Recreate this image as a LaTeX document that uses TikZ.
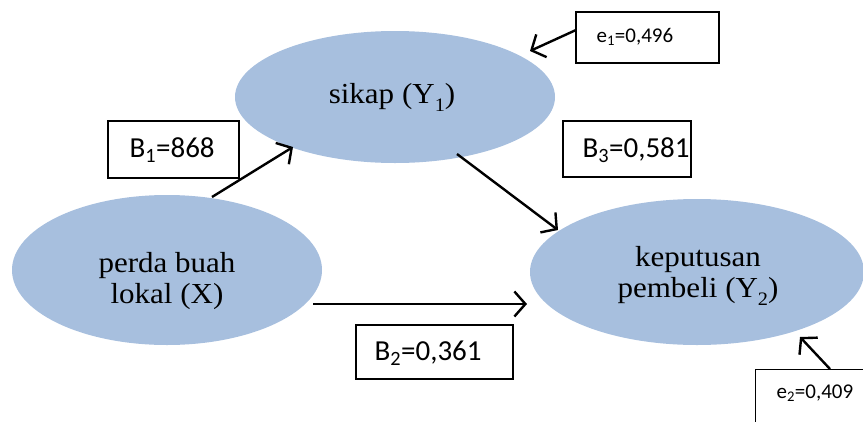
\documentclass[tikz,border=0pt]{standalone}
\usepackage{fontspec}
\setmainfont{Liberation Serif}
\newfontfamily\carlitofont{Carlito}
\usetikzlibrary{shapes.geometric,arrows.meta}
\definecolor{ellblue}{HTML}{A7BFDE}
\newcommand{\ysub}[1]{\raisebox{-0.28em}{\fontsize{19}{19}\selectfont #1}}
\newcommand{\wide}[1]{\scalebox{1.07}[1]{#1}}
\tikzset{
  ell/.style={ellipse, fill=ellblue, inner sep=0pt},
  etext/.style={align=center, font=\fontsize{29}{31}\selectfont},
  bbox/.style={draw=black, line width=1.1pt, inner sep=0pt, font=\carlitofont\fontsize{29}{31}\selectfont},
  ebox/.style={draw=black, line width=1.1pt, inner sep=0pt, font=\carlitofont\fontsize{21}{24}\selectfont},
  arr/.style={line width=2.4pt, -{Straight Barb[length=11pt,width=25pt,line width=2.4pt]}}
}
\begin{document}
\begin{tikzpicture}[x=1pt,y=-1pt]
\useasboundingbox (0,0) rectangle (863,421);
\clip (0,0) rectangle (863,421);
\node[ell, minimum width=320pt, minimum height=132pt] (sikap) at (395,97) {};
\node[etext] (tsikap) at (392,97) {\wide{sikap (Y\ysub{1})}};
\node[ell, minimum width=310pt, minimum height=150pt] (perda) at (167,270) {};
\node[etext] (tperda) at (167,281) {\wide{perda buah}\\\wide{lokal (X)}};
\node[ell, minimum width=334pt, minimum height=146pt] (kep) at (697,272) {};
\node[etext] (tkep) at (698,276) {\wide{keputusan}\\\wide{pembeli (Y\ysub{2})}};

\node[ebox, minimum width=143pt, minimum height=51pt] (e1) at (647.5,37.5) {};
\node[ebox, draw=none, anchor=west] (e1t) at (596,37) {e\textsubscript{1}=0,496};
\node[ebox, minimum width=130pt, minimum height=70pt, anchor=north west] (e2box) at (755,369) {};
\node[ebox, draw=none, anchor=west] (e2) at (776,393) {e\textsubscript{2}=0,409};
\node[bbox, minimum width=131pt, minimum height=57pt] (b1) at (173.5,149.5) {};
\node[bbox, draw=none, anchor=west] (b1t) at (129,150) {B\textsubscript{1}=868};
\node[bbox, minimum width=128pt, minimum height=56pt] (b3) at (627,149) {};
\node[bbox, draw=none, anchor=west] (b3t) at (582,150) {B\textsubscript{3}=0,581};
\node[bbox, minimum width=157pt, minimum height=54pt] (b2) at (434.5,352) {};
\node[bbox, draw=none, anchor=west] (b2t) at (374,353) {B\textsubscript{2}=0,361};

\coordinate (a1s) at (576,30);
\coordinate (a1e) at (530,51);
\coordinate (a2s) at (212,197);
\coordinate (a2e) at (293,147);
\coordinate (a3s) at (457,154);
\coordinate (a3e) at (558,230);
\coordinate (a4s) at (313,304);
\coordinate (a4e) at (527,304);
\coordinate (a5s) at (830,369);
\coordinate (a5e) at (800,337);
\draw[arr] (a1s) -- (a1e);
\draw[arr] (a2s) -- (a2e);
\draw[arr] (a3s) -- (a3e);
\draw[arr] (a4s) -- (a4e);
\draw[arr] (a5s) -- (a5e);
\end{tikzpicture}
\end{document}
